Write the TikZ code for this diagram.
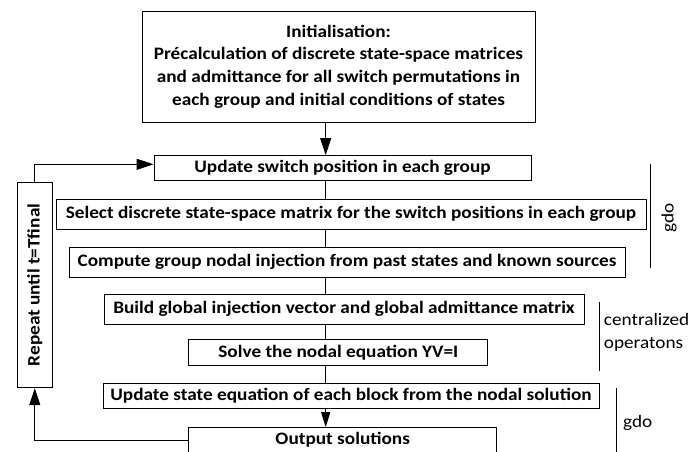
\documentclass[tikz,border=0pt]{standalone}
\usepackage{fontspec}
\setmainfont{Carlito}[FakeStretch=1.1]
\usetikzlibrary{arrows.meta,calc}
\begin{document}
\begin{tikzpicture}[x=1pt,y=-1pt,
  box/.style={draw=black,line width=1pt,inner sep=0pt,font=\bfseries\fontsize{17.5}{22.6}\selectfont,align=center},
  link/.style={draw=black,line width=1pt},
  arr/.style={link,-{Triangle[length=17pt,width=11pt]}},
  sarr/.style={link,-{Triangle[length=15pt,width=9pt]}},
  lbl/.style={font=\fontsize{17.5}{22.6}\selectfont,inner sep=0pt}]
\useasboundingbox (0,0) rectangle (688,451);
\node[box,minimum width=393pt,minimum height=111pt] (init) at (338.5,66.5)
  {Initialisation:\\Précalculation of discrete state-space matrices\\and admittance for all switch permutations in\\each group and initial conditions of states};
\node[box,minimum width=377pt,minimum height=25.3pt] (upd) at (342.5,168.3) {Update switch position in each group};
\node[box,minimum width=590pt,minimum height=30pt] (sel) at (351,214.3) {Select discrete state-space matrix for the switch positions in each group};
\node[box,minimum width=556pt,minimum height=30pt] (comp) at (347,262) {Compute group nodal injection from past states and known sources};
\node[box,minimum width=480pt,minimum height=30pt] (build) at (344,309.3) {Build global injection vector and global admittance matrix};
\node[box,minimum width=299.3pt,minimum height=26pt] (solve) at (338.3,352.3) {Solve the nodal equation YV=I};
\node[box,minimum width=496pt,minimum height=25.4pt] (ust) at (351,396) {Update state equation of each block from the nodal solution};
\node[box,minimum width=308pt,minimum height=25pt] (out) at (342.7,440.2) {Output solutions};
\node[box,minimum width=35pt,minimum height=205.4pt] (rep) at (34.8,285) {};
\node[font=\bfseries\fontsize{17.5}{22.6}\selectfont,rotate=90,inner sep=0pt] (reptxt) at (rep.center) {Repeat until t=Tfinal};
\coordinate (sp) at (325.7,0);
\draw[arr] (init.south -| sp) -- (upd.north -| sp);
\draw[link] (upd.south -| sp) -- (sel.north -| sp);
\draw[link] (sel.south -| sp) -- (comp.north -| sp);
\draw[link] (comp.south -| sp) -- (build.north -| sp);
\draw[link] (build.south -| sp) -- (solve.north -| sp);
\draw[link] (solve.south -| sp) -- (ust.north -| sp);
\draw[sarr] (ust.south -| sp) -- (out.north -| sp);
\draw[arr] (rep.north) |- ([yshift=4pt]upd.west);
\draw[arr] (out.west) -| (rep.south);
% group brackets
\coordinate (g1a) at (650.3,163.7); \coordinate (g1b) at (650.3,268.3);
\draw[link] (g1a) -- (g1b);
\node[lbl,rotate=90] (g1) at (669,218) {gdo};
\coordinate (ca) at (599.7,302); \coordinate (cb) at (599.7,371);
\draw[link] (ca) -- (cb);
\node[lbl,anchor=west,align=left] (cen) at (603.7,332.5) {centralized\\operatons};
\coordinate (g2a) at (616.3,387.7); \coordinate (g2b) at (616.3,460);
\draw[link] (g2a) -- (g2b);
\node[lbl,anchor=west] (g2) at (623,423) {gdo};
\end{tikzpicture}
\end{document}
